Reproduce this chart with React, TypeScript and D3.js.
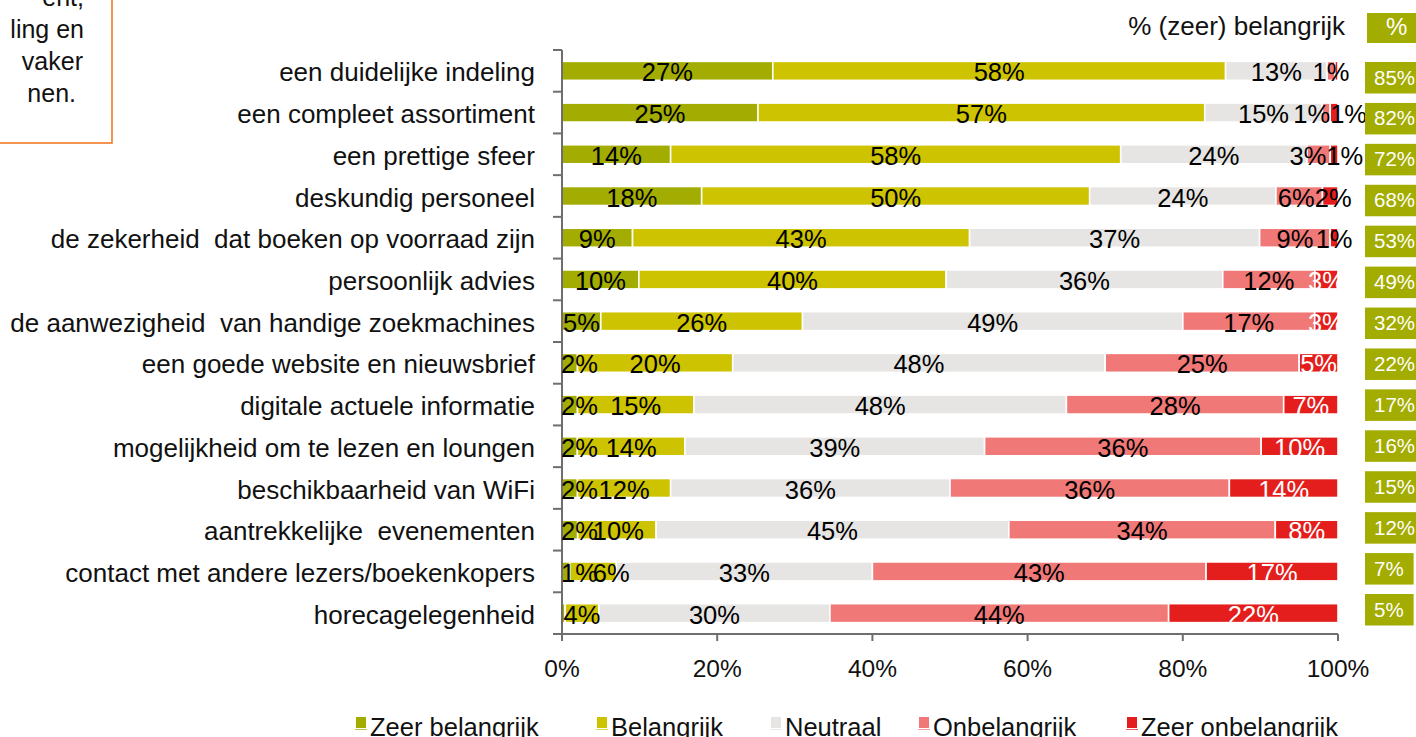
import React from "react";
import * as d3 from "d3";

const categories = [
  "een duidelijke indeling",
  "een compleet assortiment",
  "een prettige sfeer",
  "deskundig personeel",
  "de zekerheid  dat boeken op voorraad zijn",
  "persoonlijk advies",
  "de aanwezigheid  van handige zoekmachines",
  "een goede website en nieuwsbrief",
  "digitale actuele informatie",
  "mogelijkheid om te lezen en loungen",
  "beschikbaarheid van WiFi",
  "aantrekkelijke  evenementen",
  "contact met andere lezers/boekenkopers",
  "horecagelegenheid",
];

const seriesNames = ["Zeer belangrijk", "Belangrijk", "Neutraal", "Onbelangrijk", "Zeer onbelangrijk"];
const seriesColors = ["#a3ac00", "#cec300", "#e6e5e3", "#f07877", "#e31e1c"];

const zeerBelangrijk = [27, 25, 14, 18, 9, 10, 5, 2, 2, 2, 2, 2, 1, 0.4];
const belangrijk = [58, 57, 58, 50, 43, 40, 26, 20, 15, 14, 12, 10, 6, 4.4];
const neutraal = [13, 15, 24, 24, 37, 36, 49, 48, 48, 39, 36, 45, 33, 30];
const onbelangrijk = [1, 1, 3, 6, 9, 12, 17, 25, 28, 36, 36, 34, 43, 44];
const zeerOnbelangrijk = [0.4, 1, 1, 2, 1, 3, 3, 5, 7, 10, 14, 8, 17, 22];

const belangrijkTotaal = [85, 82, 72, 68, 53, 49, 32, 22, 17, 16, 15, 12, 7, 5];

const xTicks = [0, 0.2, 0.4, 0.6, 0.8, 1];

const noteLines = ["ent,", "ling en", "vaker", "nen."];

const FONT = "'Liberation Sans', Arial, Helvetica, sans-serif";

function pctWidth(label: string, size: number) {
  let w = 0;
  for (const ch of label) w += ch === "%" ? 0.889 : 0.556;
  return w * size;
}

export default function App() {
  const W = 1416;
  const H = 737;
  const x = d3.scaleLinear().domain([0, 1]).range([562, 1338]);
  const y = d3
    .scaleBand<string>()
    .domain(categories)
    .range([50, 634])
    .paddingInner(0.545)
    .paddingOuter(0.2725);
  const step = y.step();

  const seriesArrays = [zeerBelangrijk, belangrijk, neutraal, onbelangrijk, zeerOnbelangrijk];
  const table = categories.map((c, i) => {
    const o: any = { cat: c };
    seriesNames.forEach((s, k) => (o[s] = seriesArrays[k][i]));
    return o;
  });
  const stacked = d3.stack<any>().keys(seriesNames).offset(d3.stackOffsetExpand)(table);

  const labelSize = 25.5;
  const labels: { x: number; y: number; text: string; color: string }[] = [];
  categories.forEach((c, i) => {
    const row = stacked.map((s, k) => {
      const d = s[i];
      const v = seriesArrays[k][i];
      const text = Math.round(v) + "%";
      return { k, v, cx: x((d[0] + d[1]) / 2), text, w: pctWidth(text, labelSize) };
    });
    // keep the first label inside the plot area, nudge the second one if it collides
    const a = row[0];
    const b = row[1];
    if (a.v >= 0.5) {
      const minC = x(0) - 1 + a.w / 2;
      if (a.cx < minC) a.cx = minC;
      const minB = a.cx + a.w / 2 - 5 + b.w / 2;
      if (b.cx < minB) b.cx = minB;
    }
    // relieve overlap of the last two labels
    const p = row[3];
    const r = row[4];
    if (p.v >= 0.5 && r.v >= 0.5) {
      const need = (p.w + r.w) / 2;
      const dist = r.cx - p.cx;
      if (dist < need) {
        const shift = (need - dist) / 2;
        p.cx -= shift;
        r.cx += shift;
      }
    }
    row.forEach((l) => {
      if (l.v < 0.5) return;
      const color = l.k === 4 && l.v >= 3 ? "#ffffff" : "#000000";
      labels.push({ x: l.cx, y: (y(c) as number) + y.bandwidth() / 2 + 10.5, text: l.text, color });
    });
  });

  const boxY = d3.scaleLinear().domain([0, 13]).range([62, 594]);
  const boxSize = 20.5;

  const legendX = [356, 597, 771, 919, 1127];

  return (
    <svg
      width={W}
      height={H}
      style={{ position: "absolute", left: 0, top: 0, background: "#fff" }}
      fontFamily={FONT}
    >
      <rect x={0} y={0} width={W} height={H} fill="#ffffff" />

      {/* note box (cut off at top-left) */}
      <rect x={-10} y={-10} width={122} height={153} fill="#ffffff" stroke="#f07a28" strokeWidth={1.6} />
      {noteLines.map((t, i) => (
        <text key={t} x={[84, 84, 83, 76][i]} y={6 + i * 32} fontSize={25} textAnchor="end" fill="#111">
          {t}
        </text>
      ))}

      {/* header */}
      <text x={1345} y={35} fontSize={26} textAnchor="end" fill="#111">
        % (zeer) belangrijk
      </text>
      <rect x={1367} y={13} width={60} height={30} fill="#a3ac00" />
      <text x={1386} y={35} fontSize={24} fill="#ffffff">
        %
      </text>

      {/* bars */}
      {stacked.map((s, k) => (
        <g key={s.key}>
          {s.map((d, i) => (
            <rect
              key={i}
              x={x(d[0])}
              y={y(categories[i]) as number}
              width={Math.max(0, x(d[1]) - x(d[0]))}
              height={y.bandwidth()}
              fill={seriesColors[k]}
              stroke="#ffffff"
              strokeWidth={1.6}
            />
          ))}
        </g>
      ))}

      {/* y axis */}
      <line x1={562} x2={562} y1={50} y2={634} stroke="#6e6e6e" strokeWidth={2} />
      {d3.range(categories.length + 1).map((i) => (
        <line key={i} x1={553} x2={562} y1={50 + i * step} y2={50 + i * step} stroke="#6e6e6e" strokeWidth={2} />
      ))}
      {categories.map((c) => (
        <text
          key={c}
          x={535}
          y={(y(c) as number) + y.bandwidth() / 2 + 10.5}
          fontSize={26}
          textAnchor="end"
          fill="#111"
          style={{ whiteSpace: "pre" }}
        >
          {c}
        </text>
      ))}

      {/* x axis */}
      <line x1={x(0)} x2={x(1)} y1={634} y2={634} stroke="#6e6e6e" strokeWidth={2} />
      {xTicks.map((t) => (
        <g key={t}>
          <line x1={x(t)} x2={x(t)} y1={634} y2={641} stroke="#6e6e6e" strokeWidth={2} />
          <text x={x(t)} y={676.5} fontSize={24.5} textAnchor="middle" fill="#111">
            {d3.format(".0%")(t)}
          </text>
        </g>
      ))}

      {/* data labels */}
      {labels.map((l, i) => (
        <text key={i} x={l.x} y={l.y} fontSize={labelSize} textAnchor="middle" fill={l.color}>
          {l.text}
        </text>
      ))}

      {/* (zeer) belangrijk totals */}
      {belangrijkTotaal.map((v, i) => {
        const t = v + "%";
        const w = pctWidth(t, boxSize);
        return (
          <g key={i}>
            <rect x={1365} y={boxY(i)} width={w + 19} height={31.5} fill="#a3ac00" />
            <text x={1374} y={boxY(i) + 22.5} fontSize={boxSize} fill="#ffffff">
              {t}
            </text>
          </g>
        );
      })}

      {/* legend */}
      {seriesNames.map((s, k) => (
        <g key={s}>
          <rect x={legendX[k]} y={717} width={10} height={11} fill={seriesColors[k]} />
          <line x1={legendX[k] - 1} x2={legendX[k] + 11} y1={729.5} y2={729.5} stroke={seriesColors[k]} strokeWidth={1} opacity={0.7} />
          <text x={legendX[k] + 14} y={736} fontSize={25.5} fill="#111">
            {s}
          </text>
        </g>
      ))}
    </svg>
  );
}
